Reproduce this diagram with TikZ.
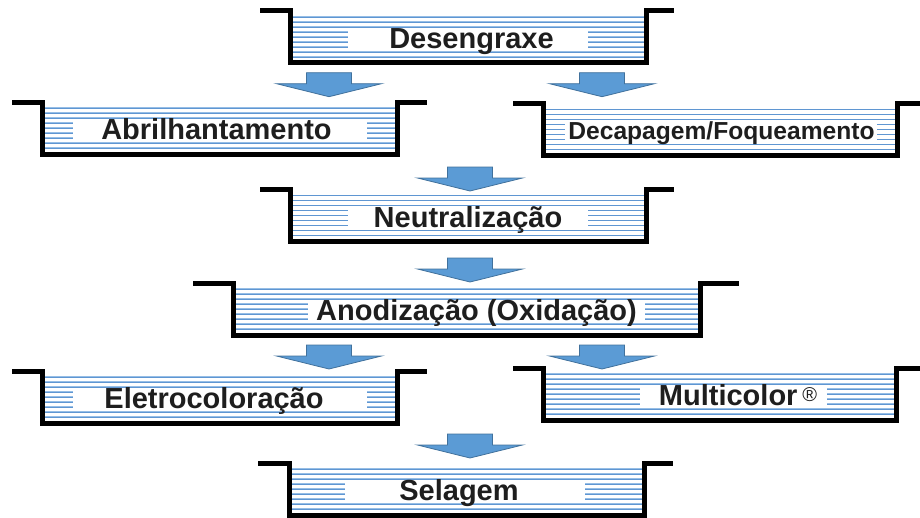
\documentclass[tikz,border=0pt]{standalone}
\usepackage{fontspec}
\setmainfont{Liberation Sans}
\definecolor{waterc}{RGB}{150,190,230}
\definecolor{waterd}{RGB}{95,150,210}
\definecolor{arrowfill}{RGB}{91,155,213}
\definecolor{arrowdraw}{RGB}{65,113,156}
\definecolor{txt}{RGB}{30,30,30}
\tikzset{
  water/.style={draw=waterc, line width=1.6pt},
  waterline/.style={draw=waterd, line width=0.5pt},
  wall/.style={draw=black, line width=5pt, line join=miter},
  lbl/.style={font=\fontsize{29}{29}\selectfont\bfseries, text=txt, inner sep=0pt, anchor=base},
  smalllbl/.style={lbl, font=\fontsize{24.6}{24.6}\selectfont\bfseries},
  barrow/.pic={\filldraw[fill=arrowfill, draw=arrowdraw, line width=0.8pt]
     (-22.5,0) -- (22.5,0) -- (22.5,11) -- (52.5,11) -- (0,24) -- (-52.5,11) -- (-22.5,11) -- cycle;}
}
% #1 xl, #2 xw, #3 xr, #4 xe, #5 yt, #6 boxl, #7 boxr
\newcommand\tankbody[7]{%
  \foreach \k in {0,...,8} {\draw[water] (#2,#5+6+5*\k) -- (#3,#5+6+5*\k);
                            \draw[waterline] (#2,#5+6+5*\k) -- (#3,#5+6+5*\k);}
  \fill[white] (#6,#5+18.5) rectangle (#7,#5+38.5);
  \draw[wall] (#1,#5) -- (#2,#5) -- (#2,#5+52) -- (#3,#5+52) -- (#3,#5) -- (#4,#5);
}
\begin{document}
\begin{tikzpicture}[x=1pt,y=-1pt]
\useasboundingbox (0,0) rectangle (920,517);
% tanks
\tankbody{260}{290}{646.5}{674}{10.8}{348}{588}
\node[lbl] (deseng) at (471.5,48.3) {Desengraxe};
\tankbody{12}{42}{397.5}{427}{102}{73}{367}
\node[lbl] (abril) at (216.5,139.5) {Abrilhantamento};
\tankbody{513}{543}{897.5}{922}{103.5}{565}{877}
\node[smalllbl] (decap) at (721.5,139.3) {Decapagem/Foqueamento};
\tankbody{260}{290}{646}{674}{189.5}{348}{588}
\node[lbl] (neutr) at (468,227) {Neutralização};
\tankbody{193}{233}{700}{739}{283}{308}{645}
\node[lbl] (anod) at (476.5,320.5) {Anodização (Oxidação)};
\tankbody{12}{42}{397.5}{427}{371}{73}{367}
\node[lbl] (eletro) at (214,408.5) {Eletrocoloração};
\tankbody{513}{543}{896}{922}{368}{640}{827}
\node[lbl] (multi) at (738,405.5) {Multicolor\,\raisebox{4.5pt}{\fontsize{20}{20}\selectfont\mdseries ®}};
\tankbody{258}{289}{644}{673}{463}{345}{585}
\node[lbl] (selag) at (459,500.5) {Selagem};
% arrows
\pic at (329,72.7) {barrow};
\pic at (602,72.7) {barrow};
\pic at (470,167) {barrow};
\pic at (470,258) {barrow};
\pic at (329,345) {barrow};
\pic at (602,345) {barrow};
\pic at (470,434) {barrow};
\end{tikzpicture}
\end{document}
